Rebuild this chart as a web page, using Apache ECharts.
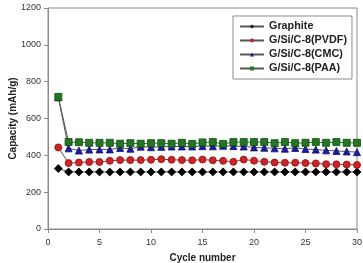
<!DOCTYPE html>
<html lang="en">
<head>
    <meta charset="UTF-8">
    <title>Capacity vs cycle</title>
    <script src="https://cdn.jsdelivr.net/npm/echarts@6/dist/echarts.min.js"></script>
    <style>
        html, body { margin: 0; padding: 0; background: #fff; }
    </style>
</head>
<body>
    <div id="chart" style="width: 363px; height: 263px"></div>
    <script type="text/javascript">
        var cycles = [];
        for (var c = 1; c <= 30; c++) cycles.push(c);

        var graphite = [328, 310, 310, 310, 310, 309, 310, 310, 310, 310, 310, 310, 310, 310, 310,
                        310, 310, 310, 310, 310, 310, 310, 310, 310, 310, 310, 310, 310, 310, 310];
        var pvdf = [443, 358, 361, 364, 364, 370, 374, 374, 374, 376, 379, 376, 374, 373, 377,
                    373, 370, 365, 377, 371, 365, 361, 360, 360, 358, 356, 352, 351, 350, 348];
        var cmc = [715, 438, 426, 431, 432, 432, 440, 436, 447, 444, 446, 448, 448, 448, 450,
                   449, 452, 450, 448, 443, 441, 438, 436, 440, 434, 431, 427, 424, 421, 417];
        var paa = [717, 472, 471, 468, 468, 468, 463, 466, 463, 466, 466, 463, 468, 462, 470,
                   472, 462, 472, 472, 472, 472, 466, 472, 466, 468, 472, 468, 472, 468, 468];

        var names = ['Graphite', 'G/Si/C-8(PVDF)', 'G/Si/C-8(CMC)', 'G/Si/C-8(PAA)'];

        function pairs(vals) {
            return vals.map(function (v, i) { return [cycles[i], v]; });
        }

        function line(name, vals, symbol, color, border, size) {
            return {
                name: name,
                type: 'line',
                data: pairs(vals),
                symbol: symbol,
                symbolSize: size,
                showAllSymbol: true,
                lineStyle: { color: '#555', width: 1 },
                itemStyle: { color: color, borderColor: border, borderWidth: 0.8 },
                emphasis: { disabled: true }
            };
        }

        var font = 'Liberation Sans, Arial, sans-serif';

        var option = {
            animation: false,
            grid: {
                left: 48, right: 6, top: 8, bottom: 34,
                outerBoundsMode: 'none',
                containLabel: false,
                show: true, borderColor: '#8a8a8a', borderWidth: 1
            },
            legend: {
                orient: 'vertical',
                left: 233, top: 16,
                padding: [5, 5, 5, 6],
                itemGap: 3,
                itemWidth: 24, itemHeight: 5,
                itemStyle: { borderWidth: 0 },
                backgroundColor: '#fff',
                borderColor: '#8a8a8a', borderWidth: 1,
                textStyle: { fontFamily: font, fontSize: 10.8, fontWeight: 'bold', color: '#222' },
                data: names
            },
            xAxis: {
                type: 'value',
                min: 0, max: 30, interval: 5,
                name: 'Cycle number',
                nameLocation: 'middle',
                nameGap: 24,
                nameMoveOverlap: false,
                nameTextStyle: { fontFamily: font, fontSize: 10, fontWeight: 'bold', color: '#222' },
                axisLine: { lineStyle: { color: '#8a8a8a' } },
                axisTick: { inside: false, length: 4, lineStyle: { color: '#8a8a8a' } },
                axisLabel: { fontFamily: font, fontSize: 9, color: '#333', margin: 9 },
                splitLine: { show: false }
            },
            yAxis: {
                type: 'value',
                min: 0, max: 1200, interval: 200,
                name: 'Capacity (mAh/g)',
                nameLocation: 'middle',
                nameGap: 30,
                nameMoveOverlap: false,
                nameTextStyle: { fontFamily: font, fontSize: 10, fontWeight: 'bold', color: '#222' },
                axisLine: { show: true, lineStyle: { color: '#8a8a8a' } },
                axisTick: { show: true, inside: false, length: 4, lineStyle: { color: '#8a8a8a' } },
                axisLabel: {
                    fontFamily: font, fontSize: 9, color: '#333', margin: 7,
                    formatter: function (v) { return String(v); }
                },
                splitLine: { show: false }
            },
            series: [
                line(names[0], graphite, 'diamond', '#000', '#000', 8),
                line(names[1], pvdf, 'circle', '#d42020', '#8a1010', 7),
                line(names[2], cmc, 'triangle', '#1a1aa8', '#10106a', 7),
                line(names[3], paa, 'rect', '#1f7a1f', '#0d4a0d', 7)
            ]
        };

        var chart = echarts.init(document.getElementById('chart'));
        chart.setOption(option);
    </script>
</body>
</html>
